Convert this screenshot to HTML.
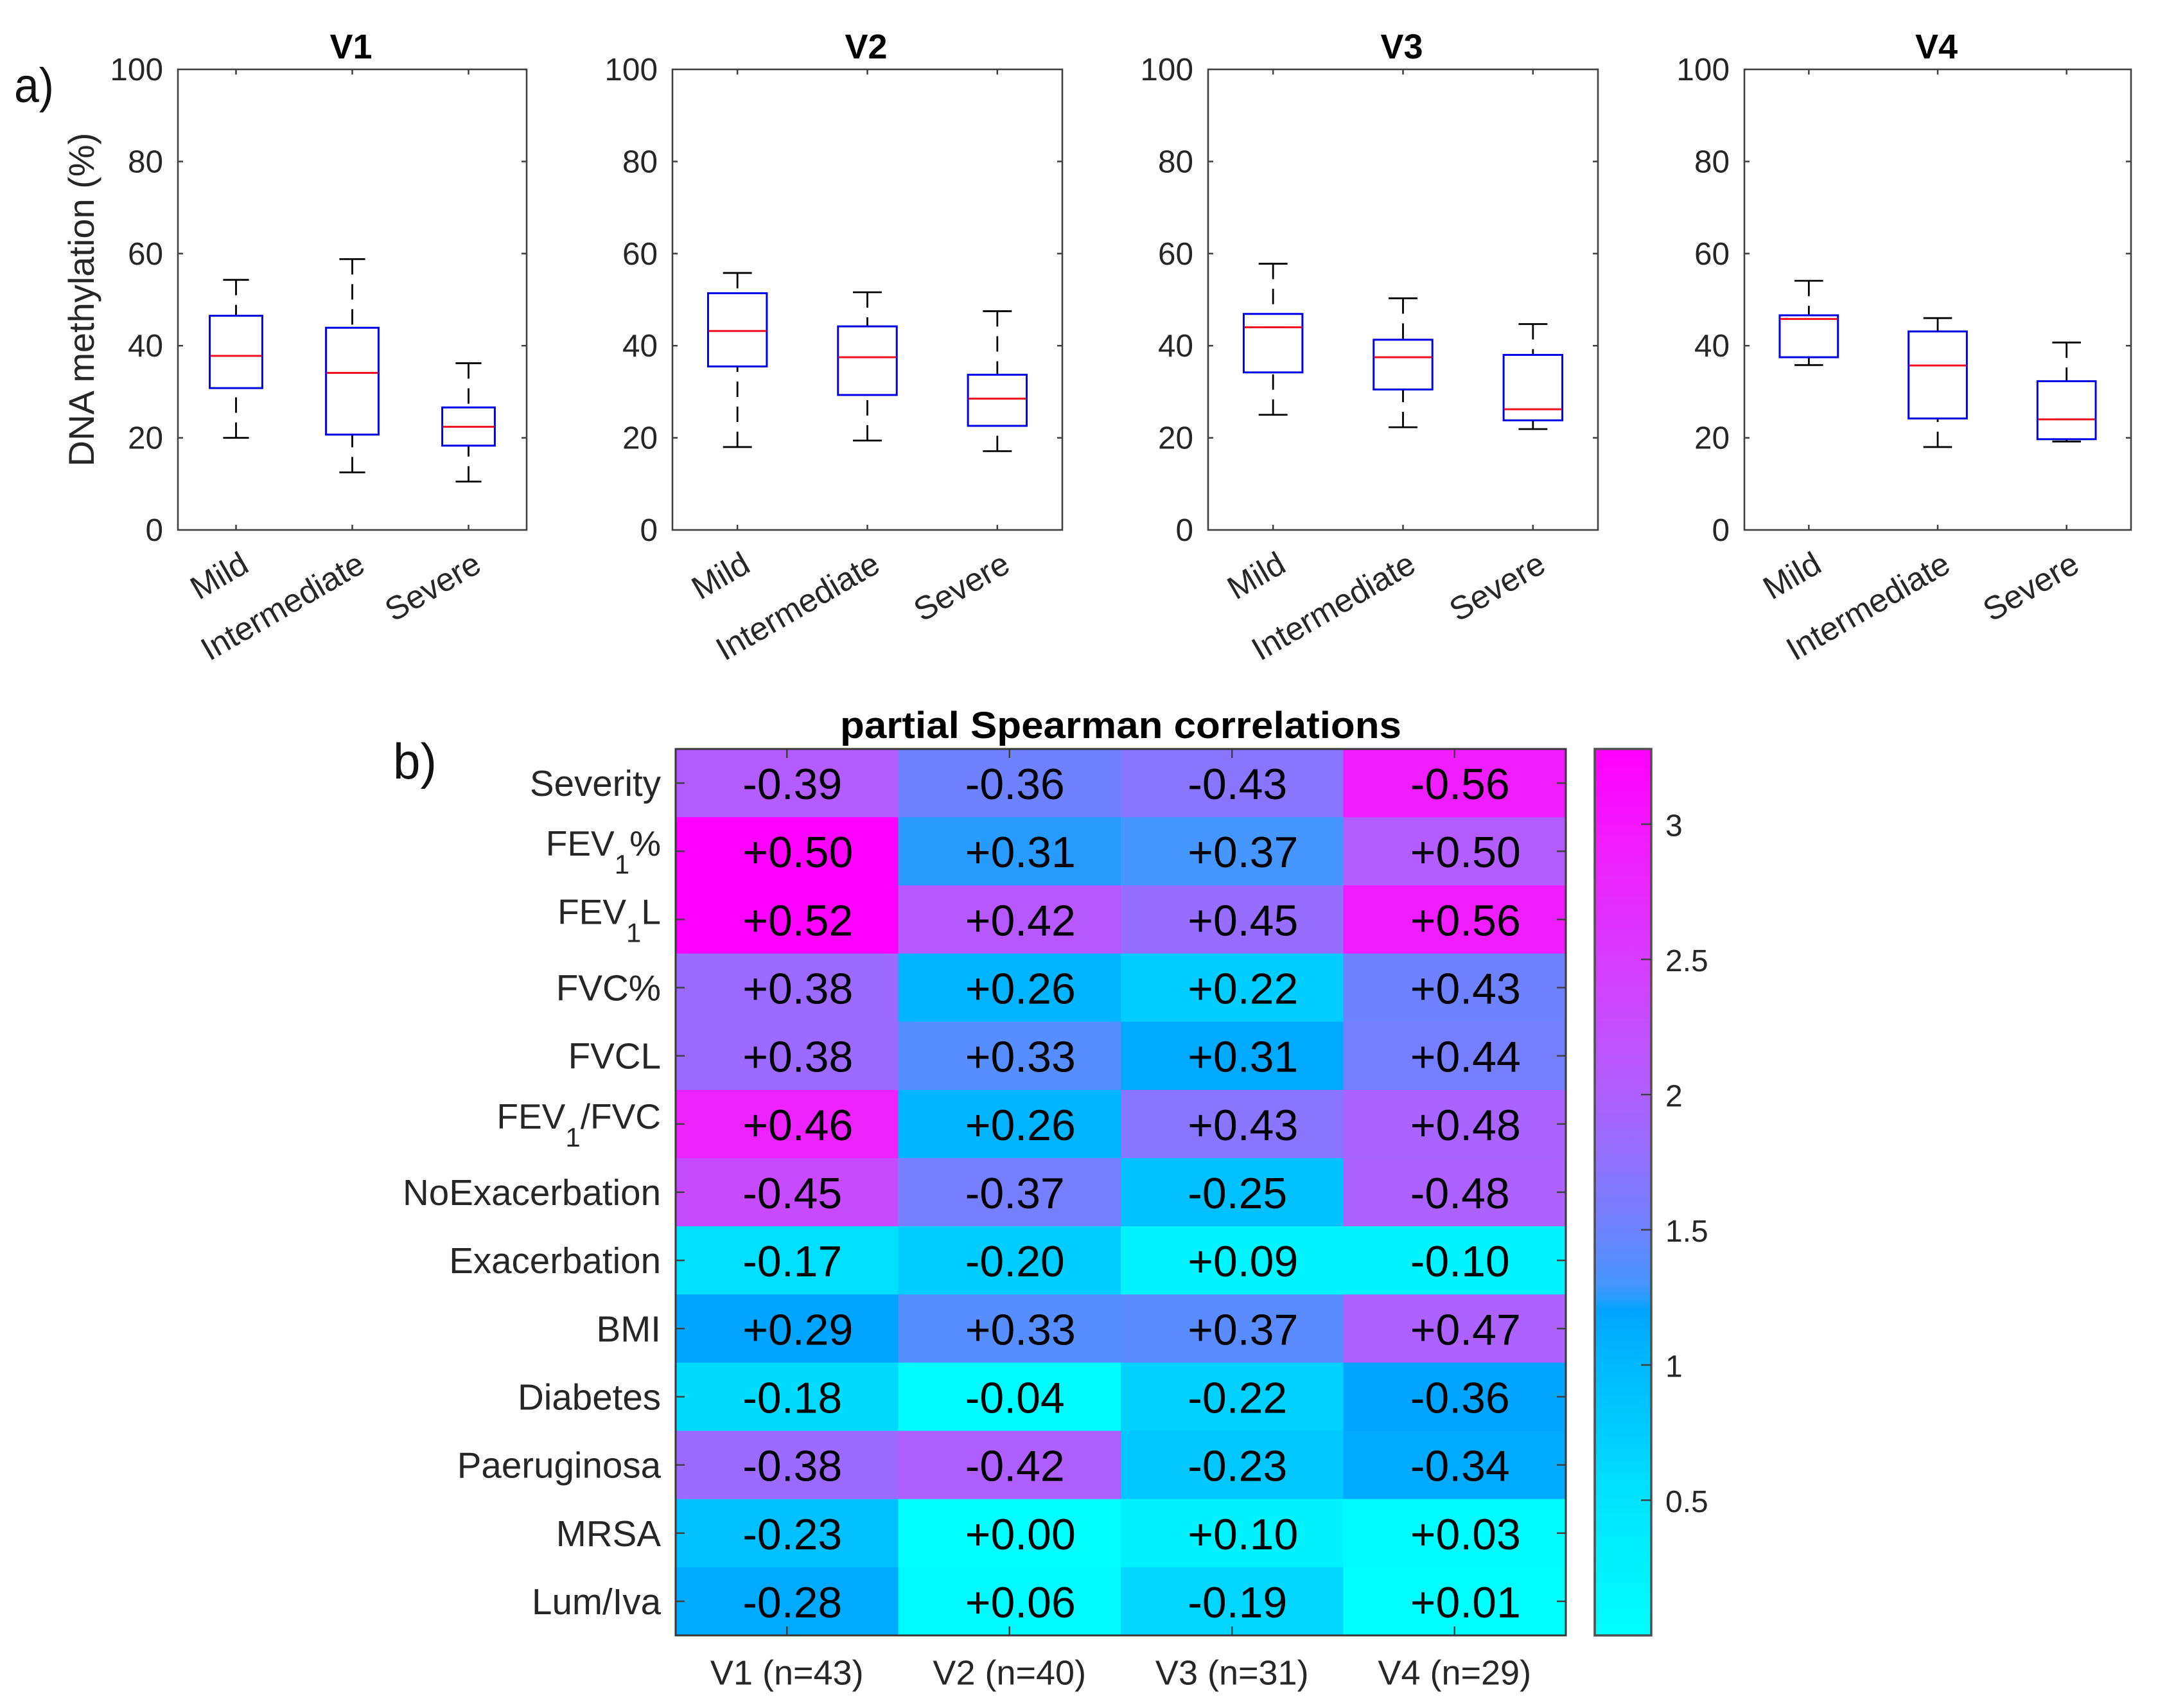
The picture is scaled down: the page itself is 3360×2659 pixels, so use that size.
<!DOCTYPE html>
<html lang="en">
<head>
<meta charset="utf-8">
<title>DNA methylation boxplots and partial Spearman correlations</title>
<style>
html,body{margin:0;padding:0;background:#fff;}
svg{display:block;font-family:"Liberation Sans",sans-serif;}
</style>
</head>
<body>
<svg id="figure" xmlns="http://www.w3.org/2000/svg" width="3360" height="2659" viewBox="0 0 3360 2659">
  <rect x="0" y="0" width="3360" height="2659" fill="#ffffff"/>
  <defs>
    <linearGradient id="cbGradient" x1="0" y1="1" x2="0" y2="0"></linearGradient>
  </defs>
</svg>
<script>
/* ---------- a) boxplot data ---------- */
const visits = ["V1", "V2", "V3", "V4"];
const severityGroups = ["Mild", "Intermediate", "Severe"];
const yTicks = [0, 20, 40, 60, 80, 100];
const whiskerHigh = [[54.3, 58.8, 36.2], [55.8, 51.6, 47.5], [57.8, 50.3, 44.7], [54.1, 46.0, 40.7]];
const quartile3 = [[46.5, 43.9, 26.6], [51.4, 44.2, 33.7], [46.9, 41.3, 38.0], [46.6, 43.1, 32.3]];
const medians = [[37.8, 34.1, 22.4], [43.2, 37.5, 28.5], [44.0, 37.5, 26.2], [45.8, 35.7, 24.0]];
const quartile1 = [[30.8, 20.7, 18.3], [35.5, 29.3, 22.6], [34.2, 30.5, 23.8], [37.5, 24.2, 19.7]];
const whiskerLow = [[20.0, 12.5, 10.5], [18.0, 19.4, 17.1], [25.0, 22.3, 21.9], [35.8, 18.0, 19.2]];

/* ---------- b) heatmap data ---------- */
const heatColumns = ["V1 (n=43)", "V2 (n=40)", "V3 (n=31)", "V4 (n=29)"];
const heatRows = ["Severity", "FEV|1|%", "FEV|1|L", "FVC%", "FVCL", "FEV|1|/FVC", "NoExacerbation", "Exacerbation", "BMI", "Diabetes", "Paeruginosa", "MRSA", "Lum/Iva"];
const correlations = [
  ["-0.39", "-0.36", "-0.43", "-0.56"],
  ["+0.50", "+0.31", "+0.37", "+0.50"],
  ["+0.52", "+0.42", "+0.45", "+0.56"],
  ["+0.38", "+0.26", "+0.22", "+0.43"],
  ["+0.38", "+0.33", "+0.31", "+0.44"],
  ["+0.46", "+0.26", "+0.43", "+0.48"],
  ["-0.45", "-0.37", "-0.25", "-0.48"],
  ["-0.17", "-0.20", "+0.09", "-0.10"],
  ["+0.29", "+0.33", "+0.37", "+0.47"],
  ["-0.18", "-0.04", "-0.22", "-0.36"],
  ["-0.38", "-0.42", "-0.23", "-0.34"],
  ["-0.23", "+0.00", "+0.10", "+0.03"],
  ["-0.28", "+0.06", "-0.19", "+0.01"]
];
const heatValues = [
  [2.05, 1.50, 1.70, 2.90],
  [3.28, 1.25, 1.30, 2.05],
  [3.28, 2.10, 1.80, 2.90],
  [1.85, 1.05, 0.75, 1.50],
  [1.85, 1.38, 1.15, 1.55],
  [2.85, 1.05, 1.70, 1.95],
  [2.30, 1.55, 0.90, 1.98],
  [0.55, 0.75, 0.20, 0.20],
  [1.20, 1.38, 1.40, 1.98],
  [0.60, 0.05, 0.70, 1.20],
  [1.85, 2.00, 0.80, 1.15],
  [0.90, 0.00, 0.25, 0.05],
  [1.15, 0.10, 0.65, 0.02]
];
const colorbarTicks = [0.5, 1, 1.5, 2, 2.5, 3];
const colorbarMax = 3.278;
const colormapValues = [0, 0.5, 0.8, 1.0, 1.2, 1.25, 1.3, 1.5, 1.8, 2.0, 2.5, 2.9, 3.278];
const colormapRed = [0, 0, 0, 0, 0, 40, 70, 110, 150, 175, 215, 240, 255];
const colormapGreen = [255, 228, 200, 185, 165, 155, 150, 130, 110, 95, 60, 30, 0];

/* ---------- layout ---------- */
const SVGNS = "http://www.w3.org/2000/svg";
const svg = document.getElementById("figure");
const INK = "#262626";
const AXIS = "#404040";
const panelLeft = [277, 1047, 1881, 2716];
const panelRight = [820, 1654, 2488, 3318];
const plotTop = 108;
const plotBottom = 825;
const heatL = 1052, heatR = 2438, heatT = 1166, heatB = 2546;
const cbL = 2483, cbR = 2571;

function make(tag, attrs, parent, text) {
  const el = document.createElementNS(SVGNS, tag);
  for (const k in attrs) el.setAttribute(k, attrs[k]);
  if (text !== undefined) el.textContent = text;
  (parent || svg).appendChild(el);
  return el;
}
function yScale(v) { return plotBottom - (v / 100) * (plotBottom - plotTop); }
function xScale(p, i) {
  const w = panelRight[p] - panelLeft[p];
  return panelLeft[p] + w * (i + 0.5) / severityGroups.length;
}
function heatColor(v) {
  const n = colormapValues.length;
  if (v <= colormapValues[0]) return "rgb(" + colormapRed[0] + "," + colormapGreen[0] + ",255)";
  for (let i = 1; i < n; i++) {
    if (v <= colormapValues[i]) {
      const t = (v - colormapValues[i - 1]) / (colormapValues[i] - colormapValues[i - 1]);
      const r = colormapRed[i - 1] + t * (colormapRed[i] - colormapRed[i - 1]);
      const g = colormapGreen[i - 1] + t * (colormapGreen[i] - colormapGreen[i - 1]);
      return "rgb(" + Math.round(r) + "," + Math.round(g) + ",255)";
    }
  }
  return "rgb(" + colormapRed[n - 1] + "," + colormapGreen[n - 1] + ",255)";
}

/* ---------- panel letters ---------- */
const letterA = make("text", {x: 22, y: 159, "font-size": 76, fill: "#111", textLength: 62, lengthAdjust: "spacingAndGlyphs"}, svg, "a)");


const letterB = make("text", {x: 612, y: 1212, "font-size": 78, fill: "#111", textLength: 68, lengthAdjust: "spacingAndGlyphs"}, svg, "b)");



const yTitle = make("text", {transform: "translate(146 466.5) rotate(-90)", "text-anchor": "middle", "font-size": 56, fill: INK}, svg, "DNA methylation (%)");



/* ---------- boxplot panels ---------- */
visits.forEach(function (visit, p) {
  const left = panelLeft[p], right = panelRight[p];
  const unit = (right - left) / severityGroups.length;
  const boxW = unit * 0.452, capW = unit * 0.222;

  const g = make("g", {}, svg);
  
  

  const title = make("text", {x: (left + right) / 2 - 2, y: 91, "text-anchor": "middle", "font-size": 54, "font-weight": "bold", fill: "#000"}, g, visit);
  
  

  yTicks.forEach(function (t) {
    const y = yScale(t);
    const lab = make("text", {x: left - 23, y: y + 17, "text-anchor": "end", "font-size": 49.5, fill: INK}, g, String(t));
    
    
    if (t > 0 && t < 100) {
      const t1 = make("line", {x1: left, x2: left + 8, y1: y, y2: y, stroke: AXIS, "stroke-width": 2.5}, g);
      
      
      const t2 = make("line", {x1: right - 8, x2: right, y1: y, y2: y, stroke: AXIS, "stroke-width": 2.5}, g);
      
      
    }
  });

  severityGroups.forEach(function (group, i) {
    const x = xScale(p, i);

    const tb = make("line", {x1: x, x2: x, y1: plotBottom - 8, y2: plotBottom, stroke: AXIS, "stroke-width": 2.5}, g);
    
    
    const tt = make("line", {x1: x, x2: x, y1: plotTop, y2: plotTop + 8, stroke: AXIS, "stroke-width": 2.5}, g);
    
    

    const lab = make("text", {transform: "translate(" + (x + 23) + " 888) rotate(-30)", "text-anchor": "end", "font-size": 51, fill: INK}, g, group);
    
    

    const box = make("g", {}, g);
    
    

    const hi = yScale(whiskerHigh[p][i]), q3 = yScale(quartile3[p][i]), med = yScale(medians[p][i]);
    const q1 = yScale(quartile1[p][i]), lo = yScale(whiskerLow[p][i]);

    const wu = make("line", {x1: x, x2: x, y1: hi, y2: q3, stroke: "#000", "stroke-width": 2.8, "stroke-dasharray": "24 15"}, box);
    
    
    const wl = make("line", {x1: x, x2: x, y1: lo, y2: q1, stroke: "#000", "stroke-width": 2.8, "stroke-dasharray": "24 15"}, box);
    
    
    const cu = make("line", {x1: x - capW / 2, x2: x + capW / 2, y1: hi, y2: hi, stroke: "#000", "stroke-width": 2.8}, box);
    
    
    const cl = make("line", {x1: x - capW / 2, x2: x + capW / 2, y1: lo, y2: lo, stroke: "#000", "stroke-width": 2.8}, box);
    
    
    const r = make("rect", {x: x - boxW / 2, y: q3, width: boxW, height: q1 - q3, fill: "#fff", stroke: "#0000e6", "stroke-width": 3}, box);
    
    
    const m = make("line", {x1: x - boxW / 2 + 1, x2: x + boxW / 2 - 1, y1: med, y2: med, stroke: "#f01020", "stroke-width": 3}, box);
    
    
  });

  const frame = make("rect", {x: left, y: plotTop, width: right - left, height: plotBottom - plotTop, fill: "none", stroke: AXIS, "stroke-width": 2.6}, g);
  
  
});

/* ---------- heatmap ---------- */
const heatGroup = make("g", {}, svg);



const colW = (heatR - heatL) / heatColumns.length;
const rowH = (heatB - heatT) / heatRows.length;

const heatTitle = make("text", {x: (heatL + heatR) / 2, y: 1149, "text-anchor": "middle", "font-size": 58, "font-weight": "bold", fill: "#000", textLength: 874, lengthAdjust: "spacingAndGlyphs"}, heatGroup, "partial Spearman correlations");



heatRows.forEach(function (rowLabel, r) {
  heatColumns.forEach(function (colLabel, c) {
    const cell = make("rect", {x: heatL + c * colW, y: heatT + r * rowH, width: colW + 0.5, height: rowH + 0.5, fill: heatColor(heatValues[r][c])}, heatGroup);
    
    
  });
});

heatRows.forEach(function (rowLabel, r) {
  const cy = heatT + (r + 0.5) * rowH;
  heatColumns.forEach(function (colLabel, c) {
    const cx = heatL + (c + 0.5) * colW;
    const val = make("text", {x: cx - 69, y: cy + 25, "font-size": 68, fill: "#000"}, heatGroup, correlations[r][c]);
    
    
  });

  const parts = rowLabel.split("|");
  const lab = make("text", {x: heatL - 23, y: cy + (parts.length > 1 ? 7 : 20), "text-anchor": "end", "font-size": parts.length > 1 ? 55 : 56.5, fill: INK}, heatGroup);
  
  
  if (parts.length > 1) {
    make("tspan", {}, lab, parts[0]);
    make("tspan", {dy: 28, "font-size": 42}, lab, parts[1]);
    make("tspan", {dy: -28}, lab, parts[2]);
  } else {
    lab.textContent = rowLabel;
  }

  const tl = make("line", {x1: heatL, x2: heatL + 14, y1: cy, y2: cy, stroke: AXIS, "stroke-width": 2.5}, heatGroup);
  
  
  const tr = make("line", {x1: heatR - 14, x2: heatR, y1: cy, y2: cy, stroke: AXIS, "stroke-width": 2.5}, heatGroup);
  
  
});

heatColumns.forEach(function (colLabel, c) {
  const cx = heatL + (c + 0.5) * colW;
  const lab = make("text", {x: cx, y: 2622.5, "text-anchor": "middle", "font-size": 54, fill: INK}, heatGroup, colLabel);
  
  
  const tb = make("line", {x1: cx, x2: cx, y1: heatB - 14, y2: heatB, stroke: AXIS, "stroke-width": 2.5}, heatGroup);
  
  
  const tt = make("line", {x1: cx, x2: cx, y1: heatT, y2: heatT + 14, stroke: AXIS, "stroke-width": 2.5}, heatGroup);
  
  
});

const heatFrame = make("rect", {x: heatL, y: heatT, width: heatR - heatL, height: heatB - heatT, fill: "none", stroke: "#383838", "stroke-width": 3}, heatGroup);



/* ---------- colorbar ---------- */
const gradient = document.getElementById("cbGradient");
colormapValues.forEach(function (v, i) {
  make("stop", {offset: v / colorbarMax, "stop-color": heatColor(v)}, gradient);
});
const cbGroup = make("g", {}, svg);


const cbRect = make("rect", {x: cbL, y: heatT, width: cbR - cbL, height: heatB - heatT, fill: "url(#cbGradient)", stroke: "#505050", "stroke-width": 3.5}, cbGroup);


colorbarTicks.forEach(function (t) {
  const y = heatB - (t / colorbarMax) * (heatB - heatT);
  const tk = make("line", {x1: cbR - 16, x2: cbR, y1: y, y2: y, stroke: AXIS, "stroke-width": 2.5}, cbGroup);
  
  
  const lab = make("text", {x: 2593, y: y + 18.5, "font-size": 48, fill: INK}, cbGroup, String(t));
  
  
});
</script>
</body>
</html>
